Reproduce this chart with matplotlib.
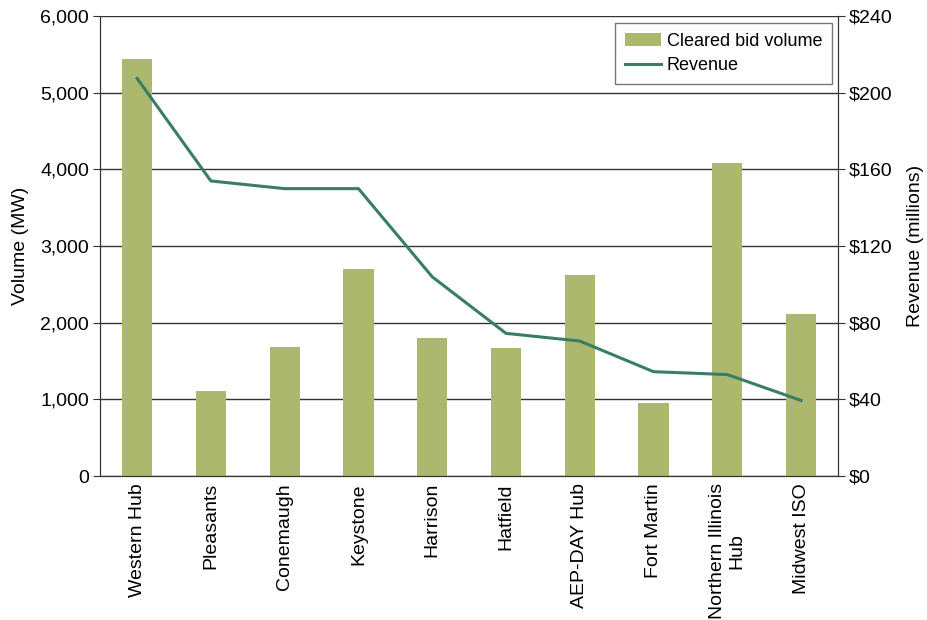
import numpy as np
import matplotlib.pyplot as plt

plt.rcParams['font.family'] = ['Liberation Sans', 'DejaVu Sans']

nodes = ["Western Hub", "Pleasants", "Conemaugh", "Keystone", "Harrison",
         "Hatfield", "AEP-DAY Hub", "Fort Martin", "Northern Illinois\nHub",
         "Midwest ISO"]
volume_mw = [5440, 1110, 1680, 2700, 1800, 1670, 2620, 960, 4080, 2110]
revenue_m = [207.5, 154, 150, 150, 104, 74.5, 70.5, 54.5, 53, 39.5]

bar_color = "#abb86d"
line_color = "#3a7d67"

fig = plt.figure(figsize=(9.28, 6.20), dpi=100)
ax = fig.add_axes([0.108, 0.232, 0.795, 0.742])
ax2 = ax.twinx()

x = np.arange(len(nodes))
bars = ax.bar(x, volume_mw, width=0.41, color=bar_color, zorder=2,
              label="Cleared bid volume")
line, = ax2.plot(x, revenue_m, color=line_color, linewidth=2.2,
                 label="Revenue", zorder=3)

ax.set_xlim(-0.5, len(nodes) - 0.5)
ax.set_ylim(0, 6000)
ax.set_yticks(np.arange(0, 6001, 1000))
ax.set_yticklabels([f"{v:,}" for v in range(0, 6001, 1000)])
ax2.set_ylim(0, 240)
ax2.set_yticks(np.arange(0, 241, 40))
ax2.set_yticklabels([f"${v}" for v in range(0, 241, 40)])

ax.yaxis.grid(True, color="#333333", linewidth=1.0, zorder=0)
ax.set_axisbelow(True)

ax.set_xticks(x)
ax.set_xticklabels(nodes, rotation=90, ha="center", va="top",
                   multialignment="center", fontsize=14)
ax.tick_params(axis="x", length=0, pad=5)
ax.tick_params(axis="y", labelsize=14, length=5, color="#333333", pad=3)
ax2.tick_params(axis="y", labelsize=14, length=5, color="#333333", pad=3)

ax.set_ylabel("Volume (MW)", fontsize=14, labelpad=8)
ax2.set_ylabel("Revenue (millions)", fontsize=14, labelpad=10)

for a in (ax, ax2):
    for s in a.spines.values():
        s.set_color("#333333")
    a.spines["top"].set_visible(False)

# legend box sits just inside the top-right corner
leg = ax2.legend([bars, line], ["Cleared bid volume", "Revenue"],
                 loc="upper right", fontsize=13, fancybox=False,
                 framealpha=1, edgecolor="#777777", borderpad=0.55,
                 handlelength=2.0, handletextpad=0.3, labelspacing=0.4,
                 borderaxespad=0, bbox_to_anchor=(0.992, 0.985))
leg.get_frame().set_linewidth(1.0)

fig.savefig("out.png", dpi=100)
